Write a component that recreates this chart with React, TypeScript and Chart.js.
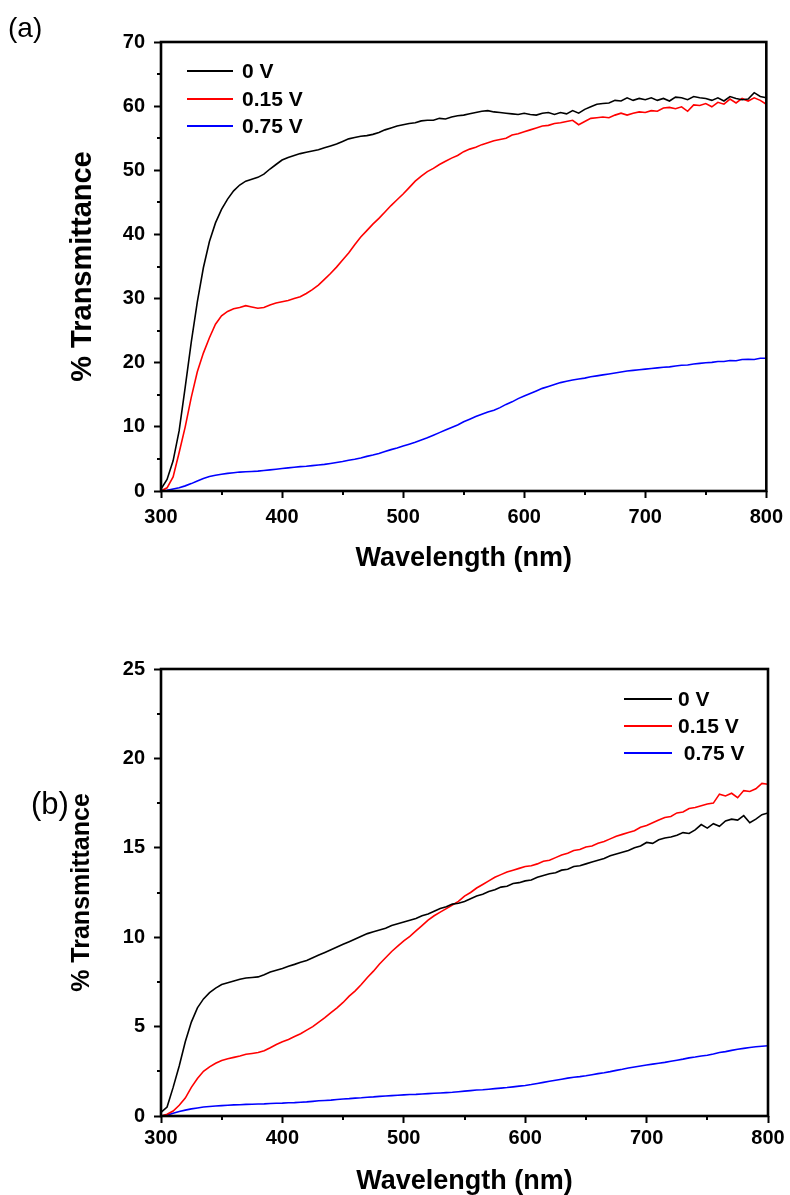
import React, { useEffect, useRef } from "react";
import { Chart, registerables } from "chart.js";
Chart.register(...registerables);

const FONT = '"Liberation Sans", Arial, Helvetica, sans-serif';

// Wavelength grid (nm)
const WAVELENGTHS = [
  300, 305, 310, 315, 320, 325, 330, 335, 340, 345,
  350, 355, 360, 365, 370, 375, 380, 385, 390, 395,
  400, 405, 410, 415, 420, 425, 430, 435, 440, 445,
  450, 455, 460, 465, 470, 475, 480, 485, 490, 495,
  500, 505, 510, 515, 520, 525, 530, 535, 540, 545,
  550, 555, 560, 565, 570, 575, 580, 585, 590, 595,
  600, 605, 610, 615, 620, 625, 630, 635, 640, 645,
  650, 655, 660, 665, 670, 675, 680, 685, 690, 695,
  700, 705, 710, 715, 720, 725, 730, 735, 740, 745,
  750, 755, 760, 765, 770, 775, 780, 785, 790, 795,
  800,
];

// Panel (a) % transmittance
const A_0V = [
  0.3, 1.8, 4.7, 9.4, 16.2, 23.2, 29.5, 34.8, 38.9, 41.8,
  43.9, 45.5, 46.8, 47.7, 48.3, 48.6, 48.9, 49.4, 50.2, 50.9,
  51.6, 52.0, 52.3, 52.6, 52.8, 53.0, 53.2, 53.5, 53.8, 54.1,
  54.5, 54.9, 55.1, 55.3, 55.4, 55.6, 55.9, 56.3, 56.6, 56.9,
  57.1, 57.3, 57.4, 57.7, 57.8, 57.8, 58.1, 58.0, 58.3, 58.5,
  58.6, 58.8, 59.0, 59.2, 59.3, 59.1, 59.0, 58.9, 58.8, 58.7,
  58.9, 58.7, 58.6, 58.9, 59.0, 58.7, 59.0, 58.8, 59.3, 58.9,
  59.5, 59.9, 60.3, 60.4, 60.5, 60.9, 60.8, 61.3, 60.9, 61.2,
  61.0, 61.3, 60.9, 61.2, 60.8, 61.4, 61.3, 61.0, 61.5, 61.3,
  61.2, 60.9, 61.3, 60.8, 61.5, 61.2, 61.0, 61.1, 62.1, 61.5,
  61.3,
];
const A_015V = [
  0.0, 0.5, 2.2, 6.0, 10.0, 14.6, 18.6, 21.5, 23.9, 26.0,
  27.3, 28.0, 28.4, 28.6, 28.9, 28.7, 28.5, 28.6, 29.0, 29.3,
  29.5, 29.7, 30.0, 30.3, 30.8, 31.4, 32.1, 33.0, 33.9, 34.9,
  36.0, 37.1, 38.4, 39.6, 40.6, 41.6, 42.5, 43.5, 44.5, 45.4,
  46.3, 47.3, 48.3, 49.1, 49.8, 50.3, 50.9, 51.4, 51.9, 52.3,
  52.9, 53.3, 53.6, 54.0, 54.3, 54.6, 54.8, 55.0, 55.5, 55.7,
  56.0, 56.3, 56.6, 56.9, 57.0, 57.3, 57.4, 57.6, 57.8, 57.1,
  57.6, 58.1, 58.2, 58.3, 58.2, 58.6, 58.9, 58.6, 58.9, 59.1,
  59.0, 59.3, 59.2, 59.7, 59.8, 59.6, 59.9, 59.2, 60.2, 60.1,
  60.4, 59.9, 60.6, 60.3, 61.1, 60.5, 61.2, 60.8, 61.3, 60.9,
  60.3,
];
const A_075V = [
  0.0, 0.1, 0.3, 0.5, 0.8, 1.15, 1.55, 1.95, 2.25, 2.45,
  2.6, 2.75, 2.85, 2.95, 3.0, 3.05, 3.1, 3.2, 3.3, 3.4,
  3.5, 3.6, 3.7, 3.8, 3.85, 3.95, 4.05, 4.15, 4.3, 4.45,
  4.6, 4.8, 4.95, 5.15, 5.4, 5.6, 5.85, 6.15, 6.45, 6.7,
  7.0, 7.3, 7.6, 7.95, 8.3, 8.7, 9.1, 9.5, 9.9, 10.3,
  10.8, 11.2, 11.6, 11.95, 12.3, 12.6, 13.0, 13.5, 13.9, 14.4,
  14.8, 15.2, 15.6, 16.0, 16.3, 16.6, 16.9, 17.1, 17.3, 17.45,
  17.6, 17.8, 17.95, 18.1, 18.25, 18.4, 18.55, 18.7, 18.8, 18.9,
  19.0, 19.1, 19.2, 19.3, 19.35, 19.5, 19.6, 19.65, 19.8, 19.9,
  20.0, 20.05, 20.2, 20.2, 20.35, 20.3, 20.5, 20.55, 20.5, 20.7,
  20.7,
];

// Panel (b) % transmittance
const B_0V = [
  0.2, 0.5, 1.6, 2.8, 4.15, 5.25, 6.05, 6.55, 6.9, 7.15,
  7.35, 7.45, 7.55, 7.65, 7.72, 7.75, 7.78, 7.9, 8.05, 8.15,
  8.25, 8.37, 8.48, 8.6, 8.7, 8.85, 9.0, 9.15, 9.3, 9.45,
  9.6, 9.75, 9.9, 10.05, 10.2, 10.3, 10.4, 10.5, 10.65, 10.75,
  10.85, 10.95, 11.05, 11.2, 11.3, 11.45, 11.6, 11.7, 11.85, 11.9,
  12.0, 12.15, 12.3, 12.4, 12.55, 12.65, 12.8, 12.85, 13.0, 13.05,
  13.15, 13.2, 13.35, 13.45, 13.55, 13.6, 13.75, 13.8, 13.95, 14.0,
  14.1, 14.2, 14.3, 14.4, 14.55, 14.65, 14.75, 14.85, 15.0, 15.1,
  15.3, 15.25, 15.45, 15.55, 15.6, 15.7, 15.85, 15.8, 16.0, 16.3,
  16.1, 16.35, 16.2, 16.5, 16.6, 16.55, 16.8, 16.4, 16.6, 16.85,
  16.95,
];
const B_015V = [
  0.0, 0.1, 0.28, 0.6, 1.0, 1.6, 2.1, 2.5, 2.75, 2.95,
  3.1, 3.2, 3.28, 3.36, 3.45, 3.5, 3.55, 3.65, 3.82, 4.0,
  4.15, 4.28, 4.45, 4.6, 4.8, 5.0, 5.25, 5.5, 5.78, 6.05,
  6.35, 6.7, 7.0, 7.35, 7.75, 8.1, 8.5, 8.85, 9.2, 9.5,
  9.8, 10.05, 10.35, 10.65, 10.95, 11.2, 11.4, 11.6, 11.8, 12.0,
  12.3, 12.5, 12.75, 12.95, 13.15, 13.35, 13.5, 13.65, 13.75, 13.85,
  13.95, 14.0, 14.1, 14.25, 14.3, 14.45, 14.6, 14.7, 14.85, 14.9,
  15.05, 15.1, 15.25, 15.35, 15.5, 15.65, 15.75, 15.85, 15.95, 16.15,
  16.25, 16.4, 16.55, 16.7, 16.75, 16.95, 17.0, 17.2, 17.25, 17.35,
  17.45, 17.5, 18.0, 17.9, 18.05, 17.8, 18.2, 18.15, 18.3, 18.6,
  18.55,
];
const B_075V = [
  0.0, 0.05, 0.15, 0.25, 0.33, 0.4, 0.45, 0.5, 0.53, 0.56,
  0.58, 0.6, 0.62, 0.63, 0.65, 0.66, 0.67, 0.68, 0.7, 0.71,
  0.72, 0.74, 0.75, 0.77, 0.79, 0.82, 0.85, 0.87, 0.89, 0.92,
  0.95, 0.97, 1.0, 1.02, 1.05, 1.07, 1.1, 1.12, 1.14, 1.16,
  1.18, 1.2, 1.21, 1.23, 1.25, 1.27, 1.29, 1.31, 1.33, 1.36,
  1.39, 1.42, 1.45, 1.47, 1.5, 1.53, 1.56, 1.59, 1.63, 1.67,
  1.71, 1.76, 1.82, 1.88, 1.94, 2.0, 2.06, 2.12, 2.17, 2.2,
  2.25, 2.31, 2.37, 2.42, 2.48, 2.55, 2.61, 2.68, 2.74, 2.8,
  2.85, 2.9, 2.95, 3.0, 3.06, 3.12, 3.18, 3.25, 3.3, 3.36,
  3.4, 3.47, 3.55, 3.6, 3.67, 3.73, 3.78, 3.83, 3.87, 3.9,
  3.93,
];

const LABELS_A = ["0 V", "0.15 V", "0.75 V"];
const LABELS_B = ["0 V", "0.15 V", " 0.75 V"];
const COLORS = ["#000000", "#ff0000", "#0000ff"];

const X_MIN = 300;
const X_MAX = 800;
const X_STEP = 100;
const X_MINOR = [350, 450, 550, 650, 750];

const Y_MAX_A = 70;
const Y_STEP_A = 10;
const Y_MINOR_A = [5, 15, 25, 35, 45, 55, 65];

const Y_MAX_B = 25;
const Y_STEP_B = 5;
const Y_MINOR_B = [2.5, 7.5, 12.5, 17.5, 22.5];

type PanelCfg = {
  top: number;
  height: number;
  padTop: number;
  padRight: number;
  xAxisH: number;
  xTickPad: number;
  xTitlePadBottom: number;
  yTitleSize: number;
  yTitlePadTop: number;
  yMax: number;
  yStep: number;
  yMinor: number[];
  series: number[][];
  labels: string[];
  legend: { lineX1: number; lineX2: number; textX: number; rows: number[] };
};

const framePlugin = {
  id: "frameAndLegend",
  afterDraw(chart: any, _args: any, opts: any) {
    const { ctx, chartArea } = chart;
    const xs = chart.scales.x;
    const ys = chart.scales.y;
    ctx.save();
    ctx.strokeStyle = "#000";
    ctx.lineWidth = 2;
    // minor ticks
    (opts.xMinor || []).forEach((v: number) => {
      const px = Math.round(xs.getPixelForValue(v));
      ctx.beginPath();
      ctx.moveTo(px, chartArea.bottom);
      ctx.lineTo(px, chartArea.bottom + 4);
      ctx.stroke();
    });
    (opts.yMinor || []).forEach((v: number) => {
      const py = Math.round(ys.getPixelForValue(v));
      ctx.beginPath();
      ctx.moveTo(chartArea.left, py);
      ctx.lineTo(chartArea.left - 4, py);
      ctx.stroke();
    });
    // frame
    ctx.lineWidth = 2.6;
    ctx.strokeRect(
      chartArea.left,
      chartArea.top,
      chartArea.right - chartArea.left,
      chartArea.bottom - chartArea.top
    );
    // legend
    const lg = opts.legend;
    if (lg) {
      ctx.font = `bold 21px ${FONT}`;
      ctx.textBaseline = "middle";
      ctx.textAlign = "left";
      chart.data.datasets.forEach((ds: any, i: number) => {
        const y = lg.rows[i];
        ctx.strokeStyle = ds.borderColor;
        ctx.lineWidth = 2;
        ctx.beginPath();
        ctx.moveTo(lg.lineX1, y);
        ctx.lineTo(lg.lineX2, y);
        ctx.stroke();
        ctx.fillStyle = "#000";
        ctx.fillText(ds.label, lg.textX, y + 1);
      });
    }
    ctx.restore();
  },
};

function Panel({ cfg }: { cfg: PanelCfg }) {
  const ref = useRef<HTMLCanvasElement>(null);
  useEffect(() => {
    const canvas = ref.current!;
    const datasets = cfg.series.map((vals, i) => ({
      label: cfg.labels[i],
      data: WAVELENGTHS.map((w, j) => ({ x: w, y: vals[j] })),
      borderColor: COLORS[i],
      backgroundColor: COLORS[i],
      borderWidth: 1.6,
      pointRadius: 0,
      tension: 0,
      fill: false,
    }));
    const chart = new Chart(canvas, {
      type: "line",
      data: { datasets },
      plugins: [framePlugin],
      options: {
        responsive: false,
        animation: false,
        devicePixelRatio: 1,
        events: [],
        layout: {
          padding: { left: 0, top: cfg.padTop, right: cfg.padRight, bottom: 0 },
        },
        plugins: {
          legend: { display: false },
          tooltip: { enabled: false },
          frameAndLegend: {
            xMinor: X_MINOR,
            yMinor: cfg.yMinor,
            legend: cfg.legend,
          },
        } as any,
        scales: {
          x: {
            type: "linear",
            min: X_MIN,
            max: X_MAX,
            afterFit: (s: any) => {
              s.height = cfg.xAxisH;
            },
            ticks: {
              stepSize: X_STEP,
              color: "#000",
              padding: cfg.xTickPad,
              maxRotation: 0,
              font: { family: FONT, size: 20, weight: "bold" },
            },
            grid: {
              display: true,
              drawOnChartArea: false,
              drawTicks: true,
              tickLength: 7,
              tickWidth: 2,
              tickColor: "#000",
            },
            border: { display: false },
            title: {
              display: true,
              text: "Wavelength (nm)",
              color: "#000",
              font: { family: FONT, size: 27, weight: "bold", lineHeight: 1 },
              padding: { top: 0, bottom: cfg.xTitlePadBottom },
            },
          },
          y: {
            type: "linear",
            min: 0,
            max: cfg.yMax,
            afterFit: (s: any) => {
              s.width = 161;
            },
            ticks: {
              stepSize: cfg.yStep,
              color: "#000",
              padding: 9,
              font: { family: FONT, size: 20, weight: "bold" },
            },
            grid: {
              display: true,
              drawOnChartArea: false,
              drawTicks: true,
              tickLength: 7,
              tickWidth: 2,
              tickColor: "#000",
            },
            border: { display: false },
            title: {
              display: true,
              text: "% Transmittance",
              color: "#000",
              font: { family: FONT, size: cfg.yTitleSize, weight: "bold", lineHeight: 1 },
              padding: { top: cfg.yTitlePadTop, bottom: 0 },
            },
          },
        },
      } as any,
    });
    return () => chart.destroy();
  }, []);
  return (
    <canvas
      ref={ref}
      width={790}
      height={cfg.height}
      style={{
        position: "absolute",
        left: 0,
        top: cfg.top,
        width: 790,
        height: cfg.height,
        display: "block",
      }}
    />
  );
}

const PANEL_A: PanelCfg = {
  top: 0,
  height: 600,
  padTop: 42,
  padRight: 18,
  xAxisH: 109,
  xTickPad: 7,
  xTitlePadBottom: 28,
  yTitleSize: 29,
  yTitlePadTop: 68,
  yMax: Y_MAX_A,
  yStep: Y_STEP_A,
  yMinor: Y_MINOR_A,
  series: [A_0V, A_015V, A_075V],
  labels: LABELS_A,
  legend: { lineX1: 187, lineX2: 233, textX: 242, rows: [71, 99, 126] },
};

const PANEL_B: PanelCfg = {
  top: 600,
  height: 595,
  padTop: 69,
  padRight: 22,
  xAxisH: 79,
  xTickPad: 3,
  xTitlePadBottom: 0,
  yTitleSize: 25,
  yTitlePadTop: 70,
  yMax: Y_MAX_B,
  yStep: Y_STEP_B,
  yMinor: Y_MINOR_B,
  series: [B_0V, B_015V, B_075V],
  labels: LABELS_B,
  legend: { lineX1: 624, lineX2: 672, textX: 678, rows: [99, 126, 153] },
};

export default function App() {
  return (
    <div
      style={{
        position: "absolute",
        left: 0,
        top: 0,
        width: 790,
        height: 1195,
        overflow: "hidden",
        background: "#ffffff",
      }}
    >
      <Panel cfg={PANEL_A} />
      <Panel cfg={PANEL_B} />
      <div
        style={{
          position: "absolute",
          left: 8,
          top: 14,
          fontFamily: FONT,
          fontSize: 28,
          lineHeight: "28px",
          color: "#000",
        }}
      >
        (a)
      </div>
      <div
        style={{
          position: "absolute",
          left: 31,
          top: 788,
          fontFamily: FONT,
          fontSize: 31,
          lineHeight: "31px",
          color: "#000",
        }}
      >
        (b)
      </div>
    </div>
  );
}
